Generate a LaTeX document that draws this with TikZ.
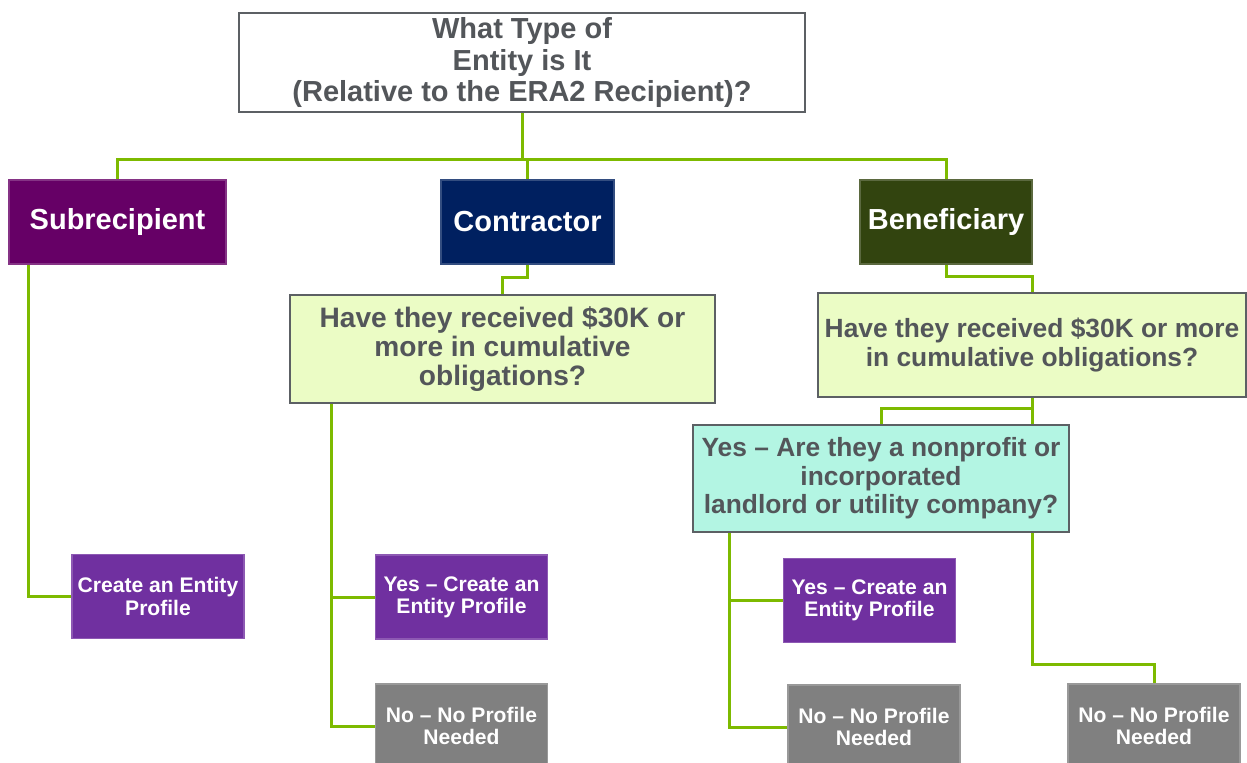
\documentclass[tikz,border=0pt]{standalone}
\usepackage{fontspec}
\setmainfont{Liberation Sans}
\usepackage{xcolor}
\usepackage{tikz}
\usetikzlibrary{positioning, calc}

\definecolor{linkgreen}{RGB}{125,186,0}
\definecolor{textgray}{RGB}{83,86,90}
\definecolor{edgegray}{RGB}{92,96,100}
\definecolor{subpurple}{RGB}{102,0,102}
\definecolor{connavy}{RGB}{0,32,96}
\definecolor{bendark}{RGB}{50,68,15}
\definecolor{qyellow}{RGB}{235,252,197}
\definecolor{qmint}{RGB}{179,245,227}
\definecolor{yesviolet}{RGB}{112,48,160}
\definecolor{nogray}{RGB}{128,128,128}

\begin{document}
\begin{tikzpicture}[x=0.02cm, y=-0.02cm,
    link/.style={linkgreen, line width=1.7pt},
    qbox/.style={draw=edgegray, line width=1.5pt, align=center, inner sep=0pt,
        text=textgray, font=\bfseries\fontsize{15}{16.2}\selectfont},
    headbox/.style={draw=#1!80!white, fill=#1, line width=0.6pt, inner sep=0pt,
        minimum height=84*0.02cm, text=white, font=\bfseries\fontsize{16.5}{18}\selectfont},
    endbox/.style={draw=#1!80!white, fill=#1, line width=0.6pt, inner sep=0pt, align=center,
        minimum width=172*0.02cm, minimum height=84*0.02cm, text=white,
        font=\bfseries\fontsize{12}{12.7}\selectfont}]
    \useasboundingbox (0,0) rectangle (1247,762);

    % Question at the top
    \node[qbox, fill=white, minimum width=566*0.02cm, minimum height=99*0.02cm,
        font=\bfseries\fontsize{16.5}{18}\selectfont] (top) at (522,62.5)
        {What Type of\\Entity is It\\(Relative to the ERA2 Recipient)?};

    % Entity types
    \node[headbox=subpurple, minimum width=217*0.02cm] (sub) at (117.5,222) {Subrecipient};
    \node[headbox=connavy, minimum width=173*0.02cm] (con) at (527.5,222) {Contractor};
    \node[headbox=bendark, minimum width=172*0.02cm] (ben) at (946,222) {Beneficiary};

    % Follow-up questions
    \node[qbox, fill=qyellow, minimum width=425*0.02cm, minimum height=108*0.02cm,
        font=\bfseries\fontsize{16}{16.4}\selectfont] (conq) at (502.5,349)
        {Have they received \$30K or\\more in cumulative\\obligations?};
    \node[qbox, fill=qyellow, minimum width=428*0.02cm, minimum height=104*0.02cm] (benq) at (1032,345)
        {Have they received \$30K or more\\in cumulative obligations?};
    \node[qbox, fill=qmint, minimum width=376*0.02cm, minimum height=107*0.02cm] (yesq) at (881,478.5)
        {Yes -- Are they a nonprofit or\\incorporated\\landlord or utility company?};

    % Outcomes
    \node[endbox=yesviolet] (subyes) at (158,596.5) {Create an Entity\\Profile};
    \node[endbox=yesviolet] (conyes) at (461.5,597) {Yes -- Create an\\Entity Profile};
    \node[endbox=nogray] (conno) at (461.5,726) {No -- No Profile\\Needed};
    \node[endbox=yesviolet] (benyes) at (869.5,600.5) {Yes -- Create an\\Entity Profile};
    \node[endbox=nogray] (benno) at (874,727) {No -- No Profile\\Needed};
    \node[endbox=nogray] (yesno) at (1154,726) {No -- No Profile\\Needed};

    % Connectors
    \draw[link] (top.south) -- ++(0,46) coordinate (hub);
    \draw[link] (sub.north) |- (hub) -| (ben.north);
    \draw[link] (con.north) -- (con.north |- hub);
    \draw[link] ($(sub.south west)+(20,0)$) |- (subyes.west);
    \draw[link] (con.south) -- ++(0,13) -| (conq.north);
    \draw[link] ($(conq.south west)+(43,0)$) |- (conno.west);
    \draw[link] ($(conq.south west)+(43,0)$) |- (conyes.west);
    \draw[link] (ben.south) -- ++(0,12) -| (benq.north);
    \draw[link] (benq.south) -- ++(0,10) coordinate (split) -| (yesq.north);
    \draw[link] (split) -- (split |- yesq.north);
    \draw[link] ($(yesq.south west)+(38,0)$) |- (benno.west);
    \draw[link] ($(yesq.south west)+(38,0)$) |- (benyes.west);
    \draw[link] (benq.south |- yesq.south) -- ++(0,131) -| (yesno.north);
\end{tikzpicture}
\end{document}
